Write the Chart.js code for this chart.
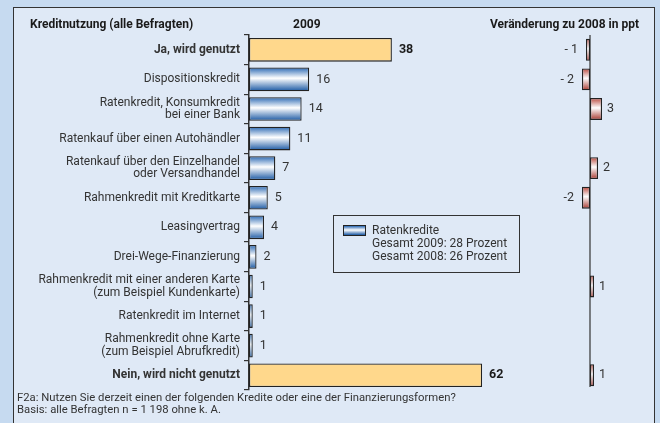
<!DOCTYPE html>
<html>
<head>
<meta charset="utf-8">
<script src="https://cdn.jsdelivr.net/npm/chart.js@4.4.0/dist/chart.umd.min.js"></script>
<style>
  body { margin: 0; width: 660px; height: 423px; overflow: hidden; position: relative;
         background: #c6daf0; font-family: Roboto, "Liberation Sans", sans-serif; color: #2b2b2b; }
  #panel { position: absolute; left: 13px; top: 7px; width: 642px; height: 430px;
           border: 1.5px solid #333; background: #dfe9f6; box-sizing: border-box; }
  #chart { position: absolute; left: 0; top: 0; }
  .t { position: absolute; font-size: 12px; white-space: nowrap; line-height: 13px; }
  .b { font-weight: bold; color: #1a1a1a; }
  #legend { position: absolute; left: 333px; top: 215px; width: 187px; height: 58px;
            border: 1.2px solid #333; box-sizing: border-box; }
  #swatch { position: absolute; left: 9px; top: 9px; width: 21px; height: 9px; border: 1.2px solid #222;
            background: linear-gradient(#2a68b3, #ffffff 45%, #1a58a3); }
  #legend .t { left: 38px; color: #333; }
  .foot { left: 17px; font-size: 11.3px; color: #333; }
</style>
</head>
<body>
<div id="panel"></div>
<canvas id="chart" width="660" height="423"></canvas>

<div class="t b" style="left:30px;top:18px;">Kreditnutzung (alle Befragten)</div>
<div class="t b" style="left:293px;top:18px;">2009</div>
<div class="t b" style="right:21px;top:18px;">Veränderung zu 2008 in ppt</div>

<div id="legend">
  <div id="swatch"></div>
  <div class="t" style="top:8px;">Ratenkredite</div>
  <div class="t" style="top:21px;">Gesamt 2009: 28 Prozent</div>
  <div class="t" style="top:34px;">Gesamt 2008: 26 Prozent</div>
</div>

<div class="t foot" style="top:391px;">F2a: Nutzen Sie derzeit einen der folgenden Kredite oder eine der Finanzierungsformen?</div>
<div class="t foot" style="top:403px;">Basis: alle Befragten n = 1 198 ohne k. A.</div>

<script>
const categories = [
    ['Ja, wird genutzt'],
    ['Dispositionskredit'],
    ['Ratenkredit, Konsumkredit', 'bei einer Bank'],
    ['Ratenkauf über einen Autohändler'],
    ['Ratenkauf über den Einzelhandel', 'oder Versandhandel'],
    ['Rahmenkredit mit Kreditkarte'],
    ['Leasingvertrag'],
    ['Drei-Wege-Finanzierung'],
    ['Rahmenkredit mit einer anderen Karte', '(zum Beispiel Kundenkarte)'],
    ['Ratenkredit im Internet'],
    ['Rahmenkredit ohne Karte', '(zum Beispiel Abrufkredit)'],
    ['Nein, wird nicht genutzt']
];
const values2009 = [38, 16, 14, 11, 7, 5, 4, 2, 1, 1, 1, 62];
const change2008 = [-1, -2, 3, null, 2, -2, null, null, 1, null, null, 1];
const changeLabels = ['- 1', '- 2', '3', '', '2', '-2', '', '', '1', '', '', '1'];
const boldRows = [0, 11];

const FONT = 'Roboto, "Liberation Sans", sans-serif';
const LEFT_PCT = 0.8, RIGHT_PCT = 0.74;

// vertical gradient for one bar, built from the y scale
function barGradient(ctx, pct, c1, c2) {
    const chart = ctx.chart;
    const area = chart.chartArea;
    if (!area) return c1;
    const y = chart.scales.y.getPixelForValue(ctx.dataIndex);
    const h = area.height / categories.length * pct;
    const g = chart.ctx.createLinearGradient(0, y - h / 2, 0, y + h / 2);
    g.addColorStop(0, c1);
    g.addColorStop(0.45, '#ffffff');
    g.addColorStop(1, c2);
    return g;
}

const valueLabels = {
    id: 'valueLabels',
    beforeDatasetsDraw(chart) {
        // zero line of the change panel
        const ctx = chart.ctx;
        const x = chart.scales.x2.getPixelForValue(0);
        ctx.save();
        ctx.strokeStyle = '#333';
        ctx.lineWidth = 1.2;
        ctx.beginPath();
        ctx.moveTo(x, chart.chartArea.top);
        ctx.lineTo(x, chart.chartArea.bottom - 3);
        ctx.stroke();
        ctx.restore();
    },
    afterDatasetsDraw(chart) {
        const ctx = chart.ctx;
        ctx.save();
        ctx.textBaseline = 'middle';
        chart.getDatasetMeta(0).data.forEach((bar, i) => {
            const bold = boldRows.includes(i);
            ctx.font = (bold ? 'bold ' : '') + '12.5px ' + FONT;
            ctx.fillStyle = bold ? '#1a1a1a' : '#333';
            ctx.textAlign = 'left';
            ctx.fillText(values2009[i], bar.x + 7, bar.y);
        });
        chart.getDatasetMeta(1).data.forEach((bar, i) => {
            if (change2008[i] === null) return;
            ctx.font = '12.5px ' + FONT;
            ctx.fillStyle = '#333';
            if (change2008[i] < 0) {
                ctx.textAlign = 'right';
                ctx.fillText(changeLabels[i], bar.x - 8, bar.y);
            } else {
                ctx.textAlign = 'left';
                ctx.fillText(changeLabels[i], bar.x + 5, bar.y);
            }
        });
        ctx.restore();
    }
};

new Chart(document.getElementById('chart'), {
    type: 'bar',
    data: {
        labels: categories,
        datasets: [{
            data: values2009,
            xAxisID: 'x',
            grouped: false,
            barPercentage: LEFT_PCT,
            categoryPercentage: 1,
            backgroundColor: c => boldRows.includes(c.dataIndex) ? '#ffd88c' : barGradient(c, LEFT_PCT, '#2a68b3', '#1a58a3'),
            borderColor: '#222',
            borderWidth: 1.3,
            borderSkipped: false
        }, {
            data: change2008,
            xAxisID: 'x2',
            grouped: false,
            barPercentage: RIGHT_PCT,
            categoryPercentage: 1,
            backgroundColor: c => barGradient(c, RIGHT_PCT, '#b9473b', '#a8382e'),
            borderColor: '#222',
            borderWidth: 1.3,
            borderSkipped: false
        }]
    },
    options: {
        indexAxis: 'y',
        responsive: false,
        animation: false,
        layout: { padding: { top: 35, bottom: 33, left: 0, right: 10 } },
        plugins: { legend: { display: false }, tooltip: { enabled: false } },
        scales: {
            x: { display: false, min: 0, max: 106.65 },
            x2: { axis: 'x', position: 'bottom', display: false, min: -85.25, max: 15 },
            y: {
                afterFit: s => { s.width = 249; },
                grid: { offset: true, drawOnChartArea: false, tickLength: 5, color: '#333', lineWidth: 1.2 },
                border: { color: '#333', width: 1.5 },
                ticks: {
                    autoSkip: false,
                    padding: 4,
                    color: '#333',
                    font: c => ({
                        family: FONT,
                        size: 12,
                        lineHeight: 1.05,
                        weight: boldRows.includes(c.index) ? 'bold' : 'normal'
                    })
                }
            }
        }
    },
    plugins: [valueLabels]
});
</script>
</body>
</html>
